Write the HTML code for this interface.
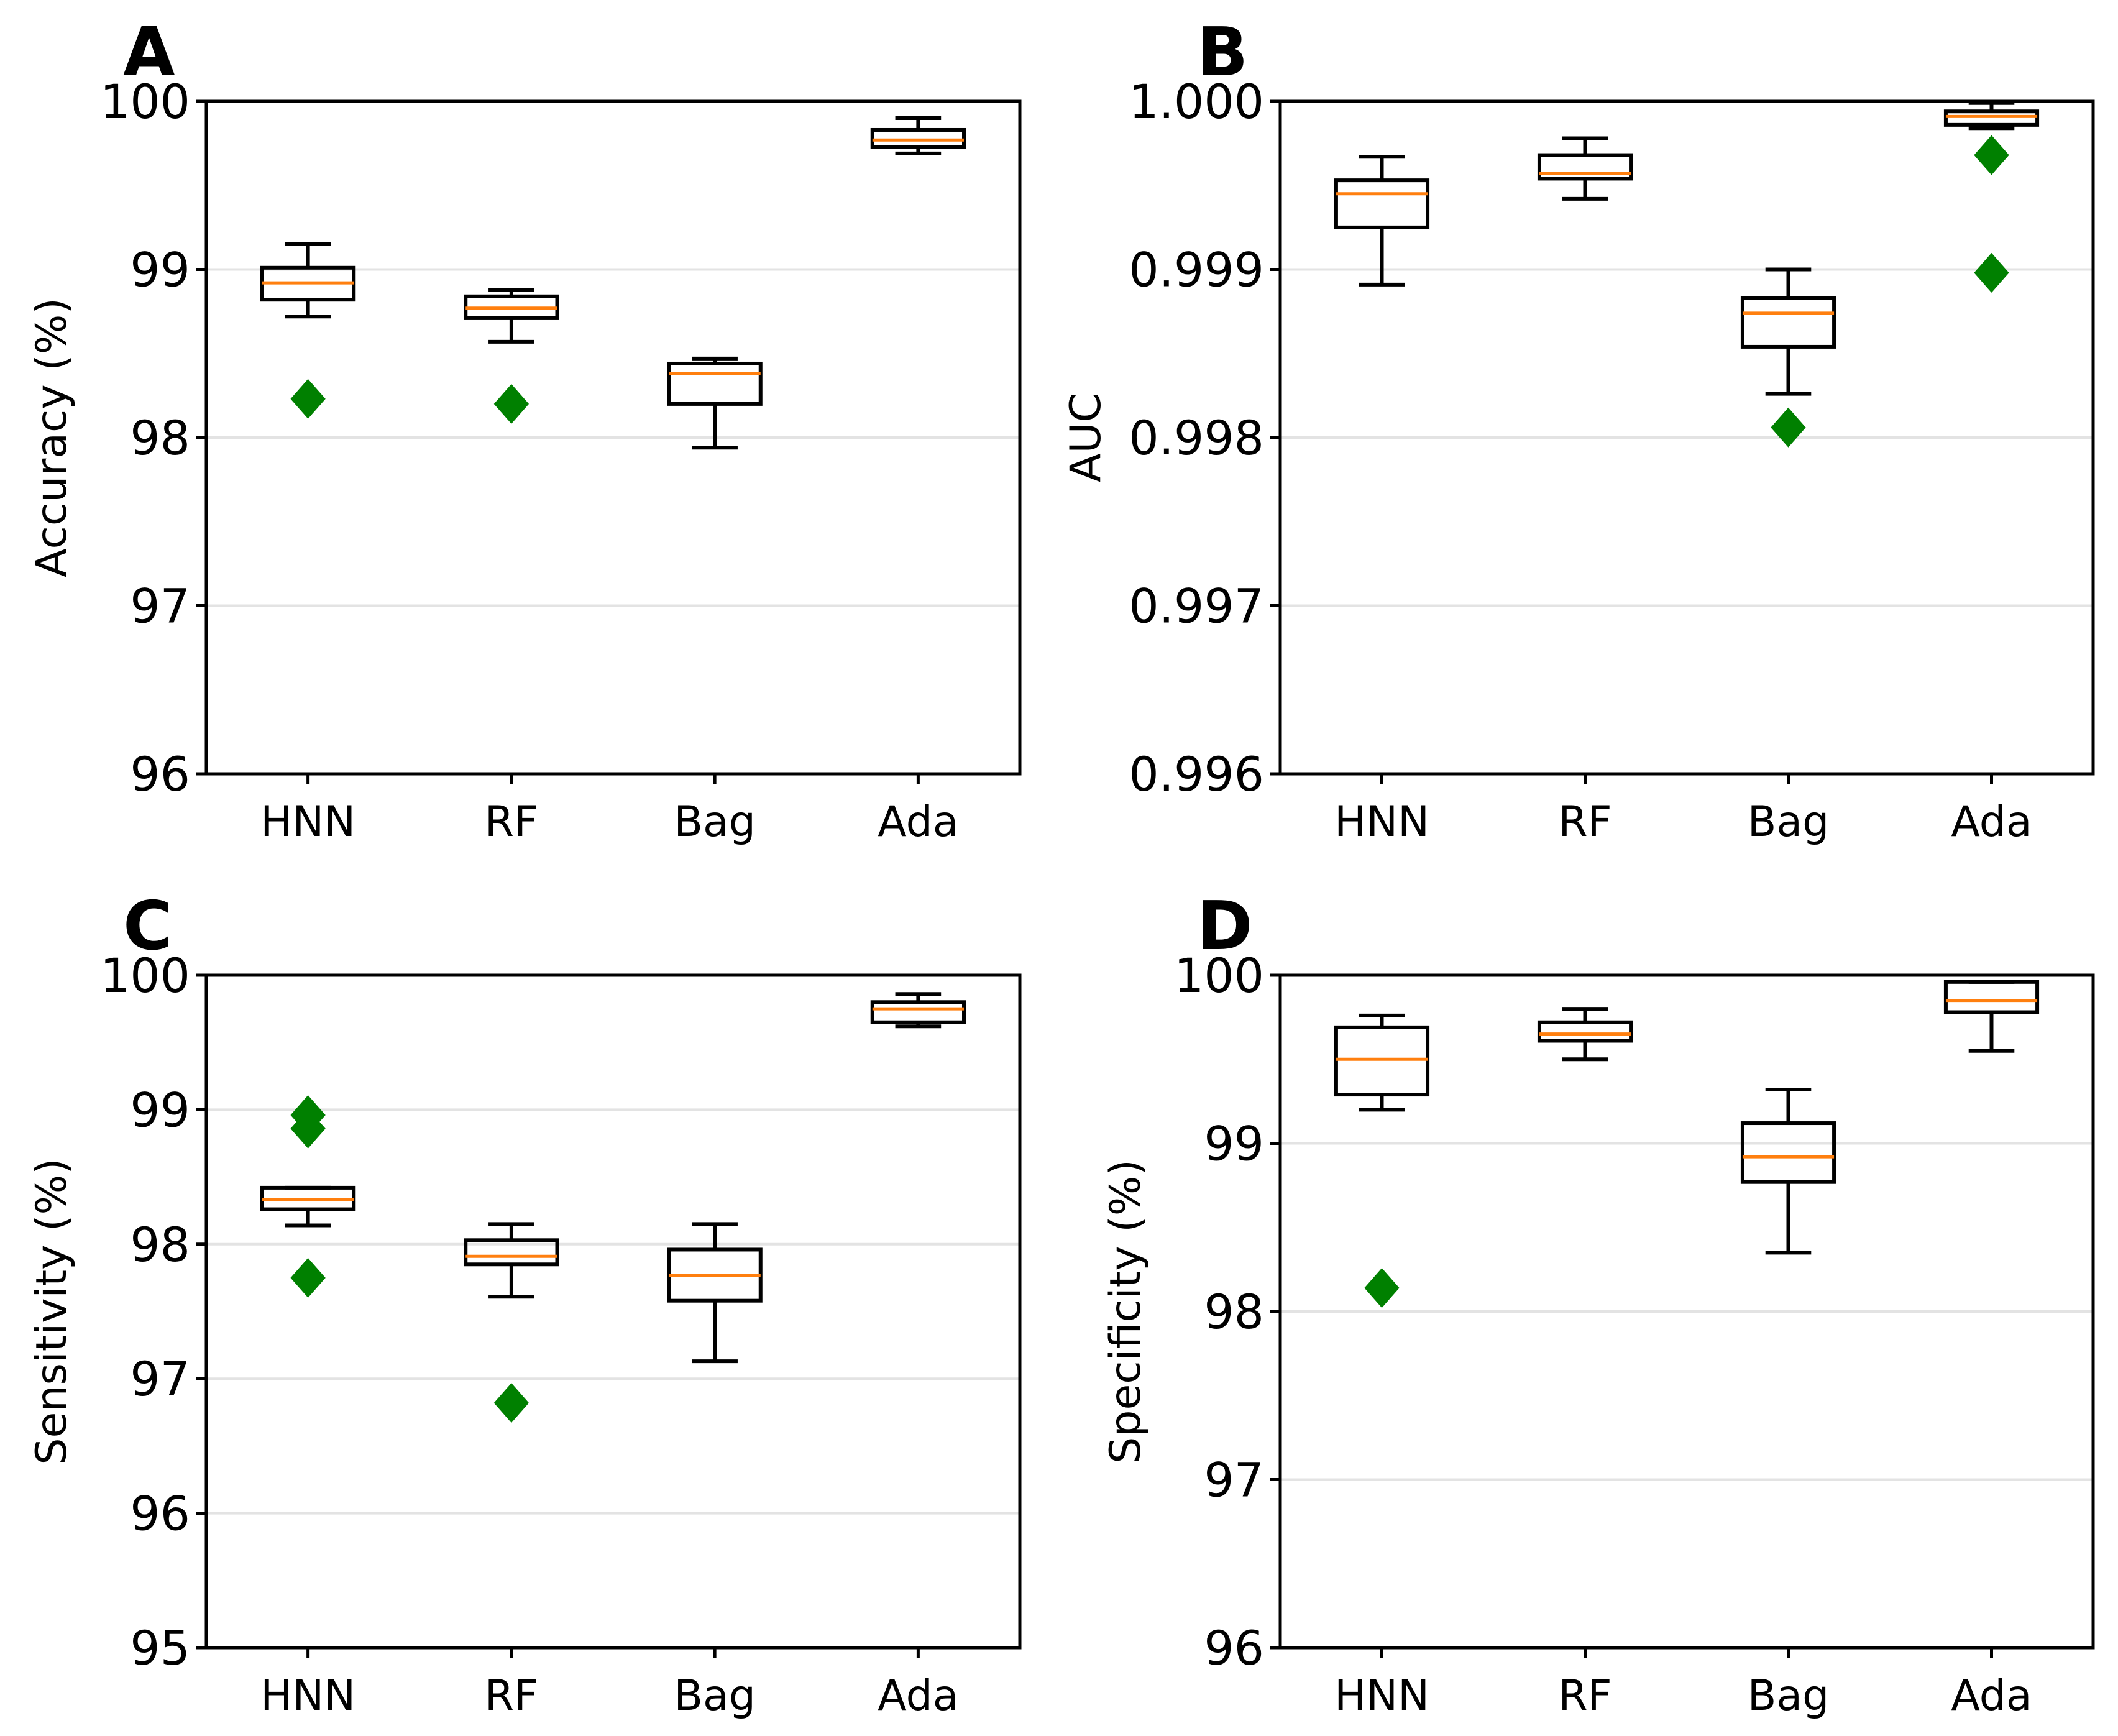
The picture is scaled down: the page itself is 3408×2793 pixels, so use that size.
<!DOCTYPE html>
<html><head><meta charset="utf-8"><style>
html,body{margin:0;padding:0;background:#fff}
svg{display:block}
text{font-family:"DejaVu Sans","Liberation Sans",sans-serif}
</style></head><body>
<svg id="fig" width="3408" height="2793" viewBox="0 0 3408 2793" xmlns="http://www.w3.org/2000/svg"></svg>
<script>
const categories = ["HNN","RF","Bag","Ada"];
// each: [whiskerLow, q1, median, q3, whiskerHigh]
const accuracyStats = [[98.72,98.82,98.92,99.01,99.15],[98.57,98.71,98.77,98.84,98.88],[97.94,98.20,98.38,98.44,98.47],[99.69,99.73,99.77,99.83,99.90]];
const accuracyFliers = [[98.23],[98.20],[],[]];
const aucStats = [[0.99891,0.99925,0.99945,0.99953,0.99967],[0.99942,0.99954,0.99957,0.99968,0.99978],[0.99826,0.99854,0.99874,0.99883,0.99900],[0.99984,0.99986,0.99991,0.99994,0.99999]];
const aucFliers = [[],[],[0.99806],[0.99968,0.99898]];
const sensitivityStats = [[98.14,98.26,98.33,98.42,98.42],[97.61,97.85,97.91,98.03,98.15],[97.13,97.58,97.77,97.96,98.15],[99.62,99.65,99.75,99.80,99.86]];
const sensitivityFliers = [[98.96,98.86,97.75],[96.82],[],[]];
const specificityStats = [[99.20,99.29,99.50,99.69,99.76],[99.50,99.61,99.65,99.72,99.80],[98.35,98.77,98.92,99.12,99.32],[99.55,99.78,99.85,99.96,99.96]];
const specificityFliers = [[98.14],[],[],[]];
const accuracyTicks = ["96","97","98","99","100"];
const aucTicks = ["0.996","0.997","0.998","0.999","1.000"];
const sensitivityTicks = ["95","96","97","98","99","100"];
const specificityTicks = ["96","97","98","99","100"];

const NS="http://www.w3.org/2000/svg";
const svg=document.getElementById('fig');
function mk(tag,attrs,parent){const e=document.createElementNS(NS,tag);for(const k in attrs)e.setAttribute(k,attrs[k]);(parent||svg).appendChild(e);return e;}

function panel(cfg){
  const g=mk('g',{});
  
  
  const {L,R,T,B}=cfg;
  const tv=cfg.ticks.map(Number);
  const ymin=tv[0], ymax=tv[tv.length-1];
  const y=v=>B-(v-ymin)/(ymax-ymin)*(B-T);
  const step=(R-L)/categories.length;
  const x=i=>L+(i+0.5)*step;
  tv.forEach((v,i)=>{
    if(i>0&&i<tv.length-1){const gl=mk('line',{x1:L,x2:R,y1:y(v),y2:y(v),stroke:'#e3e3e3','stroke-width':4},g);
      
      }
  });
  tv.forEach((v,i)=>{
    mk('line',{x1:L-17,x2:L,y1:y(v),y2:y(v),stroke:'#000','stroke-width':5},g);
    const t=mk('text',{x:L-26,y:y(v)+27,'font-size':76,'text-anchor':'end',fill:'#000'},g);
    t.textContent=cfg.ticks[i];
    
    
  });
  categories.forEach((c,i)=>{
    mk('line',{x1:x(i),x2:x(i),y1:B,y2:B+17,stroke:'#000','stroke-width':5},g);
    const t=mk('text',{x:x(i),y:B+100,'font-size':68,'text-anchor':'middle',fill:'#000'},g);
    t.textContent=c;
    
    
  });
  const bw=step*0.45, cw=bw/2;
  cfg.stats.forEach((s,i)=>{
    const bg=mk('g',{},g);
    
    
    const cx=x(i);
    mk('line',{x1:cx,x2:cx,y1:y(s[0]),y2:y(s[1]),stroke:'#000','stroke-width':6},bg);
    mk('line',{x1:cx,x2:cx,y1:y(s[3]),y2:y(s[4]),stroke:'#000','stroke-width':6},bg);
    mk('line',{x1:cx-cw/2,x2:cx+cw/2,y1:y(s[0]),y2:y(s[0]),stroke:'#000','stroke-width':6},bg);
    mk('line',{x1:cx-cw/2,x2:cx+cw/2,y1:y(s[4]),y2:y(s[4]),stroke:'#000','stroke-width':6},bg);
    mk('rect',{x:cx-bw/2,y:y(s[3]),width:bw,height:y(s[1])-y(s[3]),fill:'none',stroke:'#000','stroke-width':6},bg);
    mk('line',{x1:cx-bw/2,x2:cx+bw/2,y1:y(s[2]),y2:y(s[2]),stroke:'#ff7f0e','stroke-width':5},bg);
    cfg.fliers[i].forEach(f=>{
      const fy=y(f),r=32;
      const p=mk('polygon',{points:`${cx},${fy-r} ${cx+r*0.88},${fy} ${cx},${fy+r} ${cx-r*0.88},${fy}`,fill:'#008000'},bg);
      
      
    });
  });
  const fr=mk('rect',{x:L,y:T,width:R-L,height:B-T,fill:'none',stroke:'#000','stroke-width':5},g);
  
  
  const yl=mk('text',{x:0,y:0,'font-size':68,'text-anchor':'middle',fill:'#000',transform:`translate(${L-cfg.titleOff},${(T+B)/2}) rotate(-90)`},g);
  yl.textContent=cfg.ylabel;
  
  
  const pl=mk('text',{x:L-134,y:T-42,'font-size':108,'font-weight':'bold',fill:'#000'},g);
  pl.textContent=cfg.letter;
  
  
}
panel({name:'accuracy',letter:'A',ylabel:'Accuracy (%)',titleOff:226,L:332,R:1641,T:163,B:1245,ticks:accuracyTicks,stats:accuracyStats,fliers:accuracyFliers});
panel({name:'auc',letter:'B',ylabel:'AUC',titleOff:290,L:2060,R:3368,T:163,B:1245,ticks:aucTicks,stats:aucStats,fliers:aucFliers});
panel({name:'sensitivity',letter:'C',ylabel:'Sensitivity (%)',titleOff:226,L:332,R:1641,T:1569,B:2651,ticks:sensitivityTicks,stats:sensitivityStats,fliers:sensitivityFliers});
panel({name:'specificity',letter:'D',ylabel:'Specificity (%)',titleOff:226,L:2060,R:3368,T:1569,B:2651,ticks:specificityTicks,stats:specificityStats,fliers:specificityFliers});
</script>
</body></html>
